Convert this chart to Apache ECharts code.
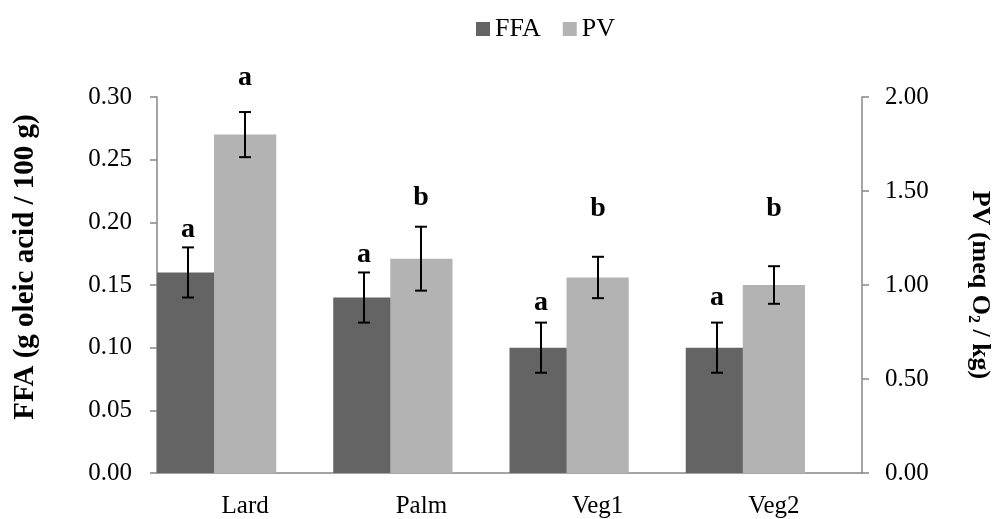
<!DOCTYPE html>
<html>
<head>
<meta charset="utf-8">
<script src="https://cdn.jsdelivr.net/npm/echarts@6/dist/echarts.min.js"></script>
<style>
  html, body { margin: 0; padding: 0; background: #fff; }
  #chart { width: 1003px; height: 519px; }
</style>
</head>
<body>
<div id="chart"></div>
<script>
// Oil samples and measured means with standard deviations
const categories = ['Lard', 'Palm', 'Veg1', 'Veg2'];
const ffaMean = [0.16, 0.14, 0.10, 0.10];   // g oleic acid / 100 g
const ffaErr  = [0.02, 0.02, 0.02, 0.02];
const pvMean  = [1.80, 1.14, 1.04, 1.00];   // meq O2 / kg
const pvErr   = [0.12, 0.17, 0.11, 0.10];
const ffaLetters = ['a', 'a', 'a', 'a'];
const pvLetters  = ['a', 'b', 'b', 'b'];
const ffaTicks = [0, 0.05, 0.10, 0.15, 0.20, 0.25, 0.30];
const pvTicks  = [0, 0.50, 1.00, 1.50, 2.00];

const FONT = '"Liberation Serif", "Times New Roman", serif';
const AXIS_GREY = '#878787';

// bar geometry as fractions of one category band: FFA, PV, then an empty slot
const BAR_W = 0.353;
const BAR_GAP = -0.0835;
const ffaShift = -0.5 + BAR_W / 2;   // FFA bar centre relative to band centre
const pvShift = 0;                    // PV bar sits on the band centre

// pixel lift of each significance letter above its whisker cap
const ffaLetterLift = [8, 8, 10, 15];
const pvLetterLift  = [25, 19, 39, 48];

function whiskers(letters, lifts, shift) {
  return function (params, api) {
    const i = api.value(0);
    const band = api.size([1, 0])[0];
    const x = Math.round(api.coord([i, 0])[0] + band * shift);
    const mean = api.value(1), err = api.value(2);
    const yTop = api.coord([i, mean + err])[1];
    const yBot = api.coord([i, mean - err])[1];
    const cap = 6;
    const st = { stroke: '#000', lineWidth: 2 };
    return {
      type: 'group',
      children: [
        { type: 'line', shape: { x1: x, y1: yTop, x2: x, y2: yBot }, style: st },
        { type: 'line', shape: { x1: x - cap, y1: yTop, x2: x + cap, y2: yTop }, style: st },
        { type: 'line', shape: { x1: x - cap, y1: yBot, x2: x + cap, y2: yBot }, style: st },
        {
          type: 'text',
          style: {
            text: letters[i], x: x, y: yTop - lifts[i] + 4.5,
            align: 'center', verticalAlign: 'bottom',
            font: 'bold 28px ' + FONT, fill: '#000'
          }
        }
      ]
    };
  };
}

const valueAxisBase = {
  type: 'value',
  splitLine: { show: false },
  axisLine: { show: true, lineStyle: { color: AXIS_GREY, width: 1.5 } },
  axisTick: { show: true, length: 7, lineStyle: { color: AXIS_GREY, width: 1.5 } },
  axisLabel: { fontSize: 25, fontFamily: FONT, color: '#000', formatter: v => v.toFixed(2) },
  nameLocation: 'middle'
};

const chart = echarts.init(document.getElementById('chart'));
chart.setOption({
  animation: false,
  backgroundColor: '#fff',
  textStyle: { fontFamily: FONT },
  legend: {
    data: [{ name: 'FFA', icon: 'rect' }, { name: 'PV', icon: 'rect' }],
    left: 471, top: 11,
    itemWidth: 14, itemHeight: 14, itemGap: 22,
    textStyle: { fontSize: 26, fontFamily: FONT, color: '#000' }
  },
  grid: { left: 157, right: 133, top: 97, bottom: 45, containLabel: false },
  xAxis: {
    type: 'category',
    data: categories,
    axisLine: { lineStyle: { color: AXIS_GREY, width: 1.5 } },
    axisTick: { length: 7, lineStyle: { color: AXIS_GREY, width: 1.5 } },
    axisLabel: { fontSize: 25, fontFamily: FONT, color: '#000', margin: 21 }
  },
  yAxis: [
    Object.assign({}, valueAxisBase, {
      min: ffaTicks[0], max: ffaTicks[ffaTicks.length - 1], interval: ffaTicks[1] - ffaTicks[0],
      position: 'left',
      axisLabel: Object.assign({}, valueAxisBase.axisLabel, { margin: 25 }),
      name: 'FFA (g oleic acid / 100 g)',
      nameRotate: 90, nameGap: 117,
      nameTextStyle: { fontSize: 29, fontWeight: 'bold', fontFamily: FONT, color: '#000', padding: [0, 0, 0, 36] }
    }),
    Object.assign({}, valueAxisBase, {
      min: pvTicks[0], max: pvTicks[pvTicks.length - 1], interval: pvTicks[1] - pvTicks[0],
      position: 'right',
      axisLabel: Object.assign({}, valueAxisBase.axisLabel, { margin: 23 }),
      name: 'PV (meq O{sub|2} / kg)',
      nameRotate: -90, nameGap: 103,
      nameTextStyle: {
        fontSize: 26, fontWeight: 'bold', fontFamily: FONT, color: '#000',
        lineHeight: 30, verticalAlign: 'bottom',
        rich: { sub: { fontSize: 16, fontWeight: 'bold', fontFamily: FONT, lineHeight: 14, verticalAlign: 'bottom' } }
      }
    })
  ],
  series: [
    {
      name: 'FFA', type: 'bar', yAxisIndex: 0, data: ffaMean,
      barWidth: (BAR_W * 100) + '%',
      itemStyle: { color: '#646464' }
    },
    {
      name: 'PV', type: 'bar', yAxisIndex: 1, data: pvMean,
      barWidth: (BAR_W * 100) + '%',
      itemStyle: { color: '#b3b3b3' }
    },
    {
      name: 'slot', type: 'bar', yAxisIndex: 0, data: [],
      barWidth: (BAR_W * 100) + '%', barGap: (BAR_GAP * 100) + '%'
    },
    {
      type: 'custom', yAxisIndex: 0, z: 5,
      data: categories.map((c, i) => [i, ffaMean[i], ffaErr[i]]),
      encode: { x: 0, y: 1 },
      renderItem: whiskers(ffaLetters, ffaLetterLift, ffaShift)
    },
    {
      type: 'custom', yAxisIndex: 1, z: 5,
      data: categories.map((c, i) => [i, pvMean[i], pvErr[i]]),
      encode: { x: 0, y: 1 },
      renderItem: whiskers(pvLetters, pvLetterLift, pvShift)
    }
  ]
});
</script>
</body>
</html>
